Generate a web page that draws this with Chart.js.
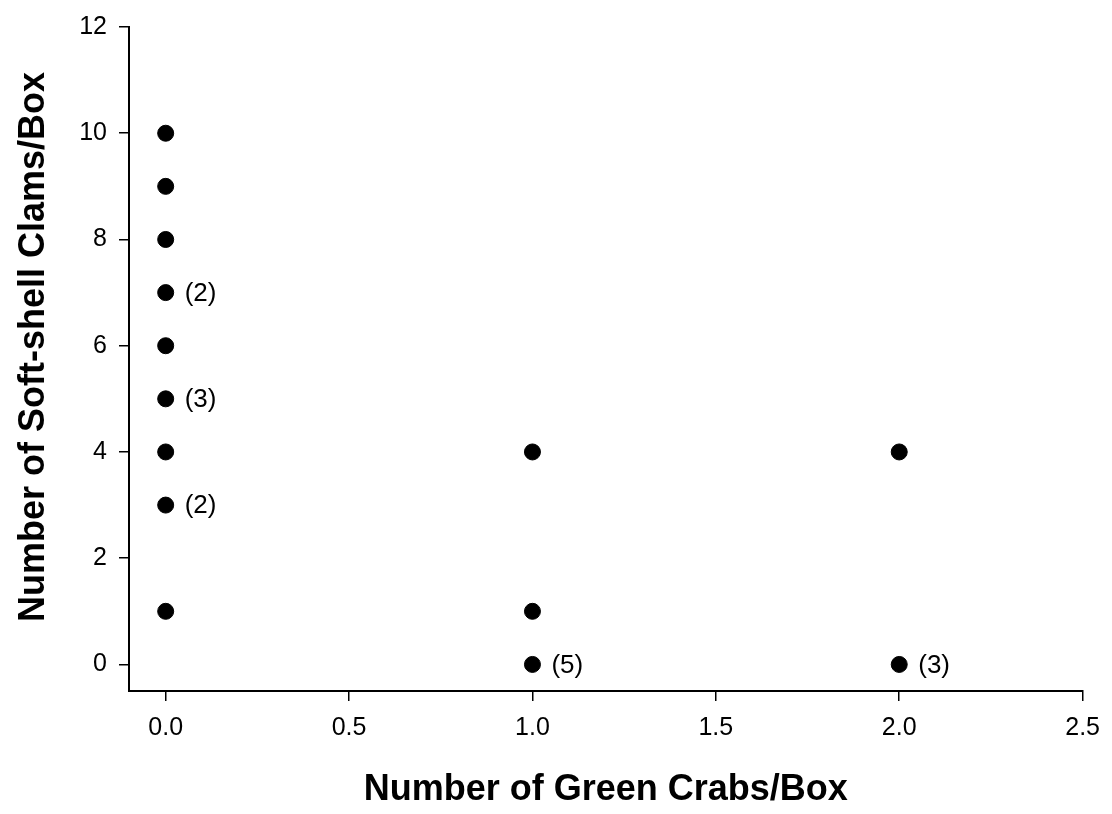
<!DOCTYPE html>
<html>
<head>
<meta charset="utf-8">
<script src="https://cdn.jsdelivr.net/npm/chart.js@4/dist/chart.umd.min.js"></script>
<style>
html,body{margin:0;padding:0;background:#fff;}
#c{display:block;}
</style>
</head>
<body>
<canvas id="c" width="1112" height="814"></canvas>
<script>
// ---- data ----
const crabs  = [0, 0, 0, 0, 0, 0, 0, 0, 0, 1, 1, 1, 2, 2];
const clams  = [10, 9, 8, 7, 6, 5, 4, 3, 1, 4, 1, 0, 4, 0];
const counts = ["", "", "", "(2)", "", "(3)", "", "(2)", "", "", "", "(5)", "", "(3)"];
const xTicks = [0, 0.5, 1, 1.5, 2, 2.5];
const yTicks = [0, 2, 4, 6, 8, 10, 12];
const xTitle = "Number of Green Crabs/Box";
const yTitle = "Number of Soft-shell Clams/Box";

const FONT = "'Liberation Sans', Arial, Helvetica, sans-serif";

const points = crabs.map((x, i) => ({x: x, y: clams[i]}));

const countLabels = {
  id: 'countLabels',
  afterDatasetsDraw(chart) {
    const ctx = chart.ctx;
    const meta = chart.getDatasetMeta(0);
    ctx.save();
    ctx.fillStyle = '#000';
    ctx.font = '26px ' + FONT;
    ctx.textAlign = 'left';
    ctx.textBaseline = 'middle';
    meta.data.forEach((el, i) => {
      if (counts[i]) ctx.fillText(counts[i], el.x + 19, el.y + 1);
    });
    ctx.restore();
  }
};

const yTitlePlugin = {
  id: 'yTitlePlugin',
  afterDraw(chart) {
    const ctx = chart.ctx;
    ctx.save();
    ctx.fillStyle = '#000';
    ctx.font = 'bold 36px ' + FONT;
    ctx.textAlign = 'center';
    ctx.textBaseline = 'middle';
    ctx.translate(34, 347);
    ctx.rotate(-Math.PI / 2);
    ctx.fillText(yTitle, 0, 0);
    ctx.restore();
  }
};

new Chart(document.getElementById('c'), {
  type: 'scatter',
  data: {
    datasets: [{
      data: points,
      backgroundColor: '#000',
      borderColor: '#000',
      borderWidth: 1,
      pointRadius: 8,
      pointHoverRadius: 8
    }]
  },
  options: {
    responsive: false,
    animation: false,
    devicePixelRatio: 1,
    layout: { padding: { left: 0, right: 26, top: 20, bottom: 0 } },
    plugins: {
      legend: { display: false },
      tooltip: { enabled: false }
    },
    scales: {
      x: {
        type: 'linear',
        min: -0.1,
        max: 2.5,
        afterBuildTicks(scale) { scale.ticks = xTicks.map(v => ({value: v})); },
        afterFit(scale) { scale.height = 814 - 691; },
        ticks: {
          color: '#000',
          font: { family: FONT, size: 25 },
          padding: 12,
          callback: v => Number(v).toFixed(1)
        },
        grid: {
          drawOnChartArea: false,
          drawTicks: true,
          tickLength: 10,
          color: '#000',
          lineWidth: 1.5
        },
        border: { display: true, color: '#000', width: 2 },
        title: {
          display: true,
          text: xTitle,
          color: '#000',
          font: { family: FONT, size: 36, weight: 'bold' },
          padding: { top: 0, bottom: 2 }
        }
      },
      y: {
        type: 'linear',
        min: -0.5,
        max: 12,
        afterBuildTicks(scale) { scale.ticks = yTicks.map(v => ({value: v})); },
        afterFit(scale) { scale.width = 129; },
        ticks: {
          color: '#000',
          font: { family: FONT, size: 25 },
          padding: 12,
          callback: v => String(v)
        },
        grid: {
          drawOnChartArea: false,
          drawTicks: true,
          tickLength: 10,
          color: '#000',
          lineWidth: 1.5
        },
        border: { display: true, color: '#000', width: 2 }
      }
    }
  },
  plugins: [countLabels, yTitlePlugin]
});
</script>
</body>
</html>
